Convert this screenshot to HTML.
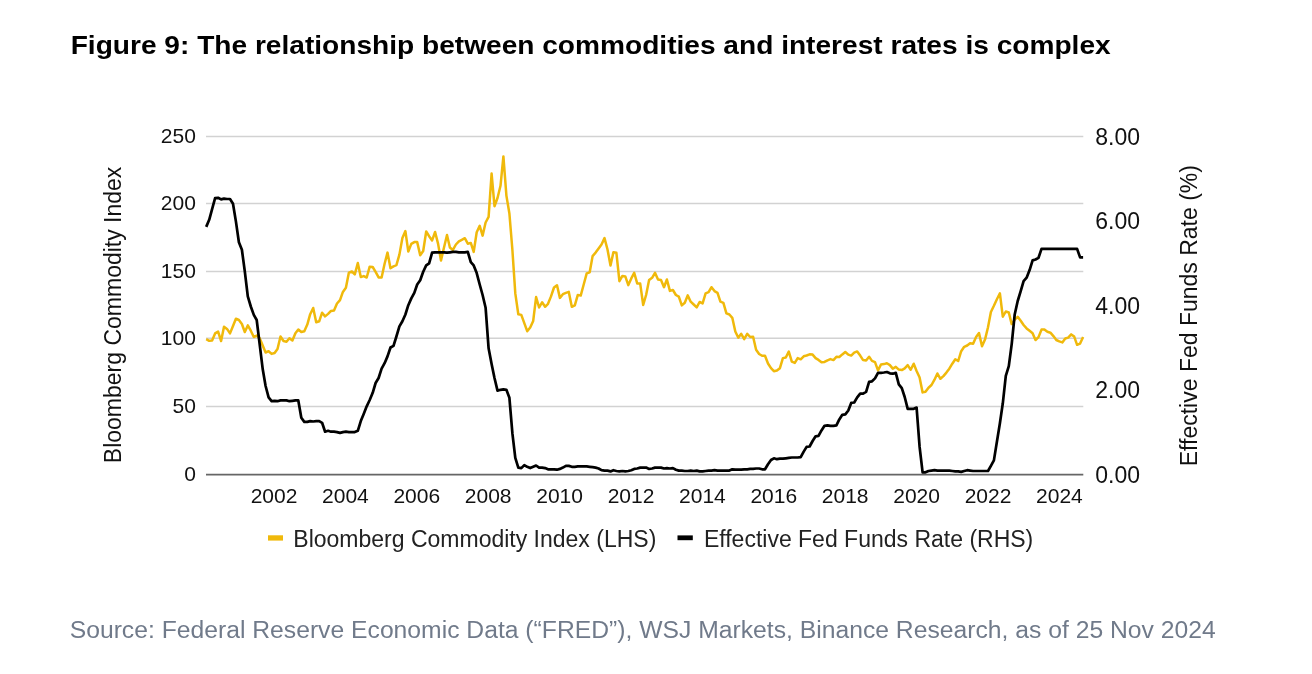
<!DOCTYPE html>
<html><head><meta charset="utf-8"><style>
html,body{margin:0;padding:0;background:#fff;}
body{width:1312px;height:674px;overflow:hidden;position:relative;}
svg{position:absolute;left:0;top:0;will-change:transform;}
text{font-family:"Liberation Sans",sans-serif;}
</style></head><body>
<svg width="1312" height="674" viewBox="0 0 1312 674">
<text x="70.7" y="53.5" font-size="25" font-weight="bold" fill="#000" textLength="1040" lengthAdjust="spacingAndGlyphs">Figure 9: The relationship between commodities and interest rates is complex</text>
<g fill="#111">
<text x="195.9" y="481.0" text-anchor="end" font-size="21">0</text>
<line x1="206" y1="406.4" x2="1083.3" y2="406.4" stroke="#d2d2d2" stroke-width="1.5"/>
<text x="195.9" y="413.0" text-anchor="end" font-size="21">50</text>
<line x1="206" y1="338.3" x2="1083.3" y2="338.3" stroke="#d2d2d2" stroke-width="1.5"/>
<text x="195.9" y="344.9" text-anchor="end" font-size="21">100</text>
<line x1="206" y1="271.4" x2="1083.3" y2="271.4" stroke="#d2d2d2" stroke-width="1.5"/>
<text x="195.9" y="278.0" text-anchor="end" font-size="21">150</text>
<line x1="206" y1="203.5" x2="1083.3" y2="203.5" stroke="#d2d2d2" stroke-width="1.5"/>
<text x="195.9" y="210.1" text-anchor="end" font-size="21">200</text>
<line x1="206" y1="136.4" x2="1083.3" y2="136.4" stroke="#d2d2d2" stroke-width="1.5"/>
<text x="195.9" y="143.0" text-anchor="end" font-size="21">250</text>
<text x="1095.3" y="482.5" font-size="23">0.00</text>
<text x="1095.3" y="398.1" font-size="23">2.00</text>
<text x="1095.3" y="313.6" font-size="23">4.00</text>
<text x="1095.3" y="229.1" font-size="23">6.00</text>
<text x="1095.3" y="144.7" font-size="23">8.00</text>
<text x="274.0" y="502.7" text-anchor="middle" font-size="21">2002</text>
<text x="345.4" y="502.7" text-anchor="middle" font-size="21">2004</text>
<text x="416.8" y="502.7" text-anchor="middle" font-size="21">2006</text>
<text x="488.2" y="502.7" text-anchor="middle" font-size="21">2008</text>
<text x="559.6" y="502.7" text-anchor="middle" font-size="21">2010</text>
<text x="631.0" y="502.7" text-anchor="middle" font-size="21">2012</text>
<text x="702.4" y="502.7" text-anchor="middle" font-size="21">2014</text>
<text x="773.8" y="502.7" text-anchor="middle" font-size="21">2016</text>
<text x="845.2" y="502.7" text-anchor="middle" font-size="21">2018</text>
<text x="916.6" y="502.7" text-anchor="middle" font-size="21">2020</text>
<text x="988.0" y="502.7" text-anchor="middle" font-size="21">2022</text>
<text x="1059.4" y="502.7" text-anchor="middle" font-size="21">2024</text>
</g>
<line x1="206" y1="474.6" x2="1083.3" y2="474.6" stroke="#666" stroke-width="1.8"/>
<polyline points="206.2,339.2 209.2,340.8 212.1,340.5 215.1,333.4 218.1,331.6 221.1,341.0 224.0,326.7 227.0,328.9 230.0,333.4 233.0,326.0 235.9,318.7 238.9,320.0 241.9,324.0 244.8,332.0 247.8,325.4 250.8,330.7 253.8,337.0 256.7,335.6 259.7,338.3 262.7,345.4 265.6,352.5 268.6,351.2 271.6,353.9 274.6,353.0 277.5,349.0 280.5,336.5 283.5,341.0 286.5,341.7 289.4,338.3 292.4,340.5 295.4,333.2 298.3,329.5 301.3,332.0 304.3,331.2 307.3,324.6 310.2,314.2 313.2,308.0 316.2,322.3 319.2,321.3 322.1,312.7 325.1,316.4 328.1,313.9 331.0,310.9 334.0,310.5 337.0,303.5 340.0,300.1 342.9,291.9 345.9,287.8 348.9,272.6 351.9,271.5 354.8,274.4 357.8,263.0 360.8,277.1 363.7,276.1 366.7,277.5 369.7,266.7 372.7,267.0 375.6,271.9 378.6,277.4 381.6,277.4 384.6,263.7 387.5,252.6 390.5,268.2 393.5,266.4 396.4,265.2 399.4,254.6 402.4,238.0 405.4,231.1 408.3,251.6 411.3,243.9 414.3,242.1 417.2,242.1 420.2,255.2 423.2,251.0 426.2,231.5 429.1,236.2 432.1,240.4 435.1,232.0 438.1,243.9 441.0,260.5 444.0,247.5 447.0,235.0 449.9,247.5 452.9,249.9 455.9,244.5 458.9,241.3 461.8,239.8 464.8,238.2 467.8,243.7 470.8,242.9 473.7,251.9 476.7,232.3 479.7,225.8 482.6,235.6 485.6,222.5 488.6,216.8 491.6,173.6 494.5,206.2 497.5,198.0 500.5,185.8 503.4,156.4 506.4,195.6 509.4,213.5 512.4,250.0 515.3,293.4 518.3,314.2 521.3,314.9 524.3,323.1 527.2,331.2 530.2,327.5 533.2,320.9 536.1,297.1 539.1,307.5 542.1,302.3 545.1,306.8 548.0,303.8 551.0,296.4 554.0,287.5 557.0,285.3 559.9,297.9 562.9,294.2 565.9,292.9 568.8,291.9 571.8,306.8 574.8,305.3 577.8,294.9 580.7,295.6 583.7,284.5 586.7,273.4 589.7,272.3 592.6,256.1 595.6,252.6 598.6,248.4 601.5,244.5 604.5,238.1 607.5,249.5 610.5,265.6 613.4,252.3 616.4,252.8 619.4,281.2 622.4,275.9 625.3,276.4 628.3,285.1 631.3,278.4 634.2,272.8 637.2,283.4 640.2,283.6 643.2,305.0 646.1,295.0 649.1,280.0 652.1,277.8 655.0,272.8 658.0,279.5 661.0,280.0 664.0,287.2 666.9,279.5 669.9,290.9 672.9,290.0 675.9,295.0 678.8,296.7 681.8,305.4 684.8,302.8 687.7,295.4 690.7,301.7 693.7,304.5 696.7,307.3 699.6,302.0 702.6,303.4 705.6,293.4 708.6,292.2 711.5,287.2 714.5,291.1 717.5,292.8 720.4,301.7 723.4,302.8 726.4,313.4 729.4,314.5 732.3,317.8 735.3,331.5 738.3,337.7 741.2,333.8 744.2,339.1 747.2,333.8 750.2,337.0 753.1,336.8 756.1,349.8 759.1,354.0 762.1,355.8 765.0,355.8 768.0,363.5 771.0,368.2 773.9,371.2 776.9,370.6 779.9,368.2 782.9,358.1 785.8,357.5 788.8,351.6 791.8,361.7 794.8,362.9 797.7,358.1 800.7,359.3 803.7,356.3 806.6,355.5 809.6,354.3 812.6,354.6 815.6,358.1 818.5,359.9 821.5,362.3 824.5,361.9 827.5,360.3 830.4,359.1 833.4,360.1 836.4,356.8 839.3,357.0 842.3,354.4 845.3,352.0 848.3,354.6 851.2,355.6 854.2,352.6 857.2,351.4 860.2,355.6 863.1,360.1 866.1,360.6 869.1,356.8 872.0,360.9 875.0,362.1 878.0,370.4 881.0,364.5 883.9,364.1 886.9,363.3 889.9,365.1 892.8,368.6 895.8,366.9 898.8,369.6 901.8,370.1 904.7,368.4 907.7,365.1 910.7,369.8 913.7,363.7 916.6,371.0 919.6,377.5 922.6,392.4 925.5,391.8 928.5,387.7 931.5,385.0 934.5,379.7 937.4,373.5 940.4,378.8 943.4,376.1 946.4,372.6 949.3,368.7 952.3,363.7 955.3,359.2 958.2,361.0 961.2,351.2 964.2,346.8 967.2,345.5 970.1,343.2 973.1,343.7 976.1,337.0 979.0,333.1 982.0,346.2 985.0,339.6 988.0,327.2 990.9,312.0 993.9,305.8 996.9,299.2 999.9,293.3 1002.8,316.7 1005.8,311.5 1008.8,312.5 1011.7,324.1 1014.7,319.7 1017.7,316.8 1020.7,320.7 1023.6,325.0 1026.6,328.4 1029.6,330.8 1032.6,333.2 1035.5,340.0 1038.5,337.1 1041.5,329.6 1044.4,329.6 1047.4,331.8 1050.4,332.7 1053.4,336.1 1056.3,340.0 1059.3,341.4 1062.3,342.4 1065.3,338.5 1068.2,337.6 1071.2,334.4 1074.2,336.6 1077.1,344.8 1080.1,343.6 1083.1,337.1" fill="none" stroke="#F0B90B" stroke-width="2.5" stroke-linejoin="round" stroke-linecap="butt"/>
<polyline points="206.2,226.9 209.2,219.8 212.1,209.2 215.1,198.2 218.1,197.8 221.1,199.4 224.0,198.6 227.0,199.0 230.0,199.0 233.0,203.7 235.9,221.4 238.9,242.2 241.9,249.8 244.8,271.4 247.8,296.3 250.8,306.5 253.8,314.9 256.7,320.0 259.7,344.5 262.7,369.1 265.6,386.0 268.6,397.4 271.6,401.2 274.6,400.8 277.5,401.2 280.5,400.4 283.5,400.4 286.5,400.4 289.4,401.2 292.4,400.8 295.4,400.4 298.3,400.4 301.3,417.7 304.3,421.9 307.3,421.9 310.2,421.1 313.2,421.5 316.2,421.1 319.2,421.1 322.1,422.8 325.1,431.7 328.1,430.8 331.0,431.7 334.0,431.7 337.0,432.1 340.0,432.9 342.9,432.1 345.9,431.7 348.9,432.1 351.9,432.1 354.8,432.1 357.8,430.8 360.8,421.1 363.7,413.9 366.7,406.3 369.7,400.0 372.7,392.8 375.6,383.0 378.6,378.0 381.6,368.6 384.6,363.2 387.5,356.4 390.5,347.5 393.5,345.8 396.4,336.5 399.4,326.4 402.4,321.3 405.4,314.5 408.3,305.2 411.3,298.4 414.3,292.9 417.2,284.5 420.2,280.2 423.2,271.8 426.2,265.4 429.1,263.3 432.1,252.7 435.1,252.3 438.1,252.3 441.0,252.3 444.0,252.3 447.0,252.7 449.9,252.3 452.9,251.9 455.9,251.9 458.9,252.3 461.8,252.3 464.8,252.3 467.8,251.9 470.8,262.1 473.7,265.4 476.7,273.1 479.7,284.5 482.6,295.0 485.6,307.7 488.6,348.3 491.6,364.0 494.5,378.0 497.5,390.6 500.5,389.8 503.4,389.4 506.4,389.8 509.4,397.8 512.4,433.4 515.3,457.9 518.3,467.6 521.3,468.1 524.3,465.1 527.2,466.8 530.2,468.1 533.2,466.8 536.1,465.5 539.1,467.6 542.1,467.6 545.1,468.1 548.0,469.3 551.0,469.3 554.0,469.3 557.0,469.7 559.9,468.9 562.9,467.6 565.9,465.9 568.8,465.9 571.8,466.8 574.8,466.8 577.8,466.4 580.7,466.4 583.7,466.4 586.7,466.4 589.7,466.8 592.6,467.2 595.6,467.6 598.6,468.5 601.5,470.2 604.5,470.6 607.5,470.6 610.5,471.4 613.4,470.2 616.4,471.0 619.4,471.4 622.4,471.0 625.3,471.4 628.3,471.0 631.3,470.2 634.2,468.9 637.2,468.5 640.2,467.6 643.2,467.6 646.1,467.6 649.1,468.9 652.1,468.5 655.0,467.6 658.0,467.6 661.0,467.6 664.0,468.5 666.9,468.1 669.9,468.5 672.9,468.1 675.9,469.7 678.8,470.6 681.8,470.6 684.8,471.0 687.7,471.0 690.7,470.6 693.7,471.0 696.7,470.6 699.6,471.4 702.6,471.4 705.6,471.0 708.6,470.6 711.5,470.6 714.5,470.2 717.5,470.6 720.4,470.6 723.4,470.6 726.4,470.6 729.4,470.6 732.3,469.3 735.3,469.7 738.3,469.7 741.2,469.7 744.2,469.3 747.2,469.3 750.2,468.9 753.1,468.9 756.1,468.5 759.1,468.5 762.1,469.3 765.0,469.3 768.0,464.2 771.0,460.0 773.9,458.3 776.9,459.2 779.9,458.7 782.9,458.7 785.8,458.3 788.8,457.9 791.8,457.5 794.8,457.5 797.7,457.5 800.7,457.1 803.7,451.6 806.6,446.9 809.6,446.5 812.6,441.0 815.6,436.3 818.5,435.9 821.5,430.4 824.5,425.8 827.5,425.3 830.4,425.8 833.4,425.8 836.4,425.3 839.3,419.4 842.3,414.8 845.3,414.3 848.3,410.5 851.2,402.9 854.2,402.5 857.2,397.4 860.2,393.6 863.1,393.6 866.1,391.9 869.1,381.8 872.0,381.3 875.0,378.4 878.0,372.9 881.0,372.9 883.9,372.5 886.9,372.0 889.9,373.3 892.8,373.7 895.8,372.9 898.8,384.3 901.8,388.1 904.7,397.0 907.7,408.8 910.7,408.8 913.7,408.8 916.6,407.6 919.6,446.9 922.6,472.3 925.5,472.3 928.5,471.0 931.5,470.6 934.5,470.2 937.4,470.6 940.4,470.6 943.4,470.6 946.4,470.6 949.3,470.6 952.3,471.0 955.3,471.4 958.2,471.4 961.2,471.9 964.2,471.0 967.2,470.2 970.1,470.6 973.1,471.0 976.1,471.0 979.0,471.0 982.0,471.0 985.0,471.0 988.0,471.0 990.9,465.9 993.9,460.4 996.9,441.8 999.9,423.2 1002.8,403.3 1005.8,375.8 1008.8,366.1 1011.7,344.1 1014.7,314.5 1017.7,301.0 1020.7,291.2 1023.6,281.1 1026.6,277.7 1029.6,270.1 1032.6,260.4 1035.5,259.5 1038.5,257.8 1041.5,248.9 1044.4,248.9 1047.4,248.9 1050.4,248.9 1053.4,248.9 1056.3,248.9 1059.3,248.9 1062.3,248.9 1065.3,248.9 1068.2,248.9 1071.2,248.9 1074.2,248.9 1077.1,248.9 1080.1,257.4 1083.1,257.4" fill="none" stroke="#000" stroke-width="2.7" stroke-linejoin="round" stroke-linecap="butt"/>
<text transform="translate(120.6,463.2) rotate(-90)" font-size="23" fill="#111">Bloomberg Commodity Index</text>
<text transform="translate(1197,466.3) rotate(-90)" font-size="23" fill="#111">Effective Fed Funds Rate (%)</text>
<rect x="268" y="535.3" width="15" height="5.3" fill="#F0B90B"/>
<text x="293.3" y="546.6" font-size="23" fill="#222">Bloomberg Commodity Index (LHS)</text>
<rect x="677.5" y="535.4" width="15.3" height="4.8" fill="#000"/>
<text x="703.9" y="546.6" font-size="23" fill="#222">Effective Fed Funds Rate (RHS)</text>
<text x="69.7" y="638.3" font-size="23" fill="#707A8A" textLength="1146" lengthAdjust="spacingAndGlyphs">Source: Federal Reserve Economic Data (“FRED”), WSJ Markets, Binance Research, as of 25 Nov 2024</text>
</svg>
</body></html>
